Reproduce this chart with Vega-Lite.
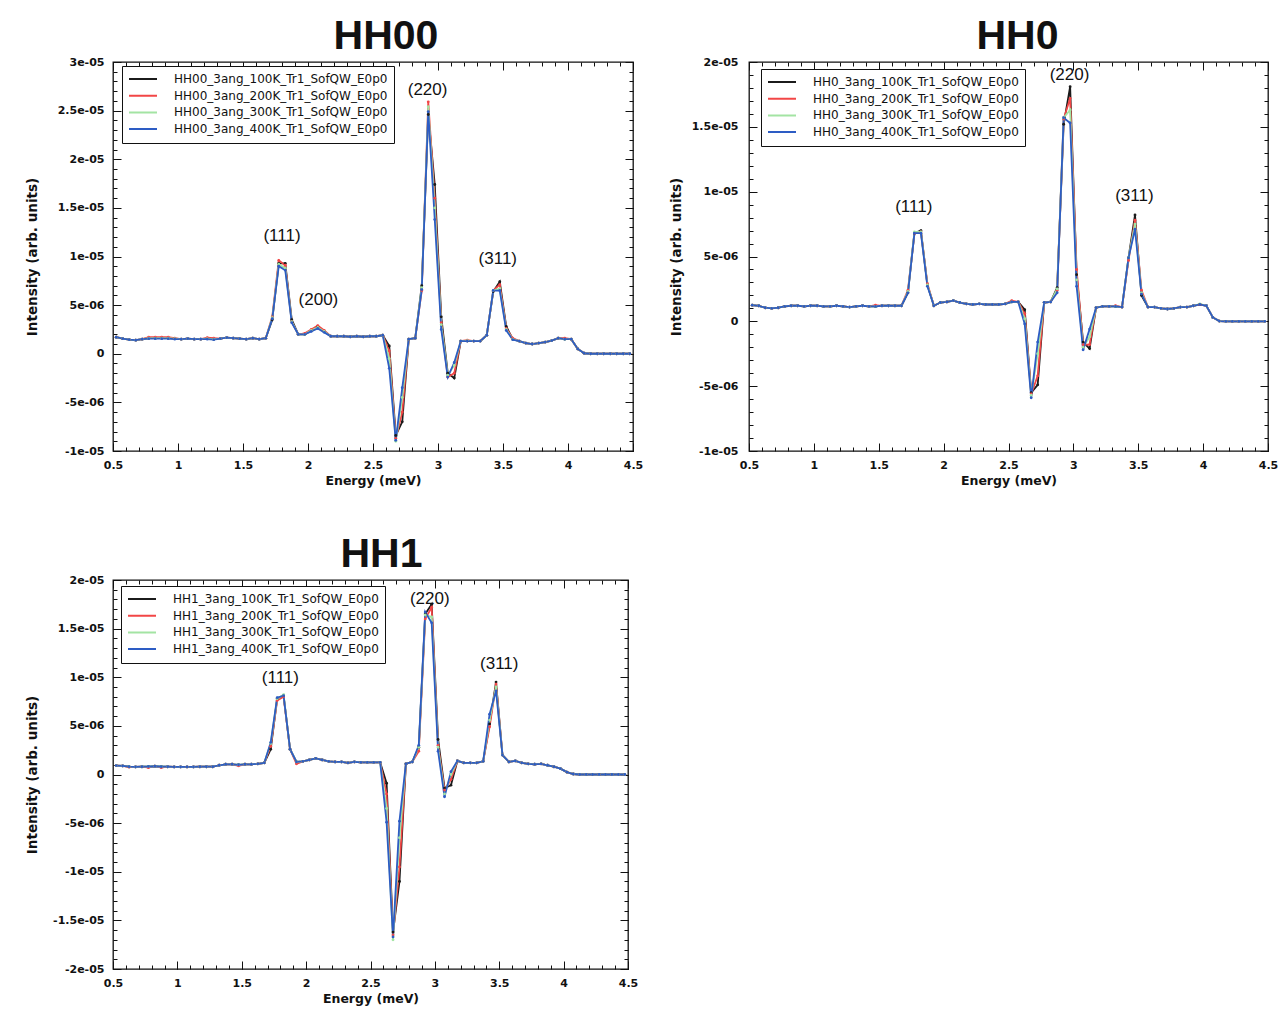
{
"$schema":"https://vega.github.io/schema/vega-lite/v6.json",
"background":"white",
"padding":{"left":24,"top":15,"right":5,"bottom":5},
"spacing":45,
"resolve":{"scale":{"color":"independent"},"legend":{"color":"independent"}},
"datasets":{
"hh00":[
{"E":0.525,"100K":1.7e-6,"200K":1.7e-6,"300K":1.7e-6,"400K":1.7e-6},
{"E":0.575,"100K":1.55e-6,"200K":1.55e-6,"300K":1.55e-6,"400K":1.55e-6},
{"E":0.625,"100K":1.45e-6,"200K":1.45e-6,"300K":1.45e-6,"400K":1.45e-6},
{"E":0.675,"100K":1.4e-6,"200K":1.4e-6,"300K":1.4e-6,"400K":1.4e-6},
{"E":0.725,"100K":1.5e-6,"200K":1.5e-6,"300K":1.5e-6,"400K":1.5e-6},
{"E":0.775,"100K":1.6e-6,"200K":1.7e-6,"300K":1.6e-6,"400K":1.55e-6},
{"E":0.825,"100K":1.6e-6,"200K":1.7e-6,"300K":1.6e-6,"400K":1.55e-6},
{"E":0.875,"100K":1.6e-6,"200K":1.7e-6,"300K":1.6e-6,"400K":1.55e-6},
{"E":0.925,"100K":1.6e-6,"200K":1.7e-6,"300K":1.6e-6,"400K":1.55e-6},
{"E":0.975,"100K":1.55e-6,"200K":1.6e-6,"300K":1.55e-6,"400K":1.5e-6},
{"E":1.025,"100K":1.5e-6,"200K":1.5e-6,"300K":1.5e-6,"400K":1.5e-6},
{"E":1.075,"100K":1.55e-6,"200K":1.55e-6,"300K":1.55e-6,"400K":1.55e-6},
{"E":1.125,"100K":1.5e-6,"200K":1.5e-6,"300K":1.5e-6,"400K":1.5e-6},
{"E":1.175,"100K":1.5e-6,"200K":1.5e-6,"300K":1.5e-6,"400K":1.5e-6},
{"E":1.225,"100K":1.55e-6,"200K":1.65e-6,"300K":1.55e-6,"400K":1.5e-6},
{"E":1.275,"100K":1.5e-6,"200K":1.6e-6,"300K":1.5e-6,"400K":1.45e-6},
{"E":1.325,"100K":1.55e-6,"200K":1.55e-6,"300K":1.55e-6,"400K":1.55e-6},
{"E":1.375,"100K":1.65e-6,"200K":1.65e-6,"300K":1.65e-6,"400K":1.65e-6},
{"E":1.425,"100K":1.6e-6,"200K":1.6e-6,"300K":1.6e-6,"400K":1.6e-6},
{"E":1.475,"100K":1.55e-6,"200K":1.55e-6,"300K":1.55e-6,"400K":1.55e-6},
{"E":1.525,"100K":1.5e-6,"200K":1.5e-6,"300K":1.5e-6,"400K":1.5e-6},
{"E":1.575,"100K":1.6e-6,"200K":1.6e-6,"300K":1.6e-6,"400K":1.6e-6},
{"E":1.625,"100K":1.5e-6,"200K":1.5e-6,"300K":1.5e-6,"400K":1.5e-6},
{"E":1.675,"100K":1.6e-6,"200K":1.6e-6,"300K":1.6e-6,"400K":1.6e-6},
{"E":1.725,"100K":3.5e-6,"200K":3.8e-6,"300K":3.7e-6,"400K":3.6e-6},
{"E":1.775,"100K":9.3e-6,"200K":9.6e-6,"300K":9.2e-6,"400K":9.0e-6},
{"E":1.825,"100K":9.3e-6,"200K":9.1e-6,"300K":8.8e-6,"400K":8.6e-6},
{"E":1.875,"100K":3.5e-6,"200K":3.3e-6,"300K":3.3e-6,"400K":3.2e-6},
{"E":1.925,"100K":2.0e-6,"200K":2.0e-6,"300K":2.0e-6,"400K":2.0e-6},
{"E":1.975,"100K":2.0e-6,"200K":2.1e-6,"300K":2.0e-6,"400K":2.0e-6},
{"E":2.025,"100K":2.4e-6,"200K":2.5e-6,"300K":2.4e-6,"400K":2.3e-6},
{"E":2.075,"100K":2.8e-6,"200K":2.9e-6,"300K":2.7e-6,"400K":2.6e-6},
{"E":2.125,"100K":2.3e-6,"200K":2.4e-6,"300K":2.3e-6,"400K":2.2e-6},
{"E":2.175,"100K":1.8e-6,"200K":1.8e-6,"300K":1.8e-6,"400K":1.8e-6},
{"E":2.225,"100K":1.8e-6,"200K":1.8e-6,"300K":1.8e-6,"400K":1.8e-6},
{"E":2.275,"100K":1.8e-6,"200K":1.8e-6,"300K":1.8e-6,"400K":1.8e-6},
{"E":2.325,"100K":1.75e-6,"200K":1.75e-6,"300K":1.75e-6,"400K":1.75e-6},
{"E":2.375,"100K":1.8e-6,"200K":1.8e-6,"300K":1.8e-6,"400K":1.8e-6},
{"E":2.425,"100K":1.75e-6,"200K":1.75e-6,"300K":1.75e-6,"400K":1.75e-6},
{"E":2.475,"100K":1.8e-6,"200K":1.8e-6,"300K":1.8e-6,"400K":1.8e-6},
{"E":2.525,"100K":1.8e-6,"200K":1.8e-6,"300K":1.8e-6,"400K":1.8e-6},
{"E":2.575,"100K":1.9e-6,"200K":1.9e-6,"300K":1.9e-6,"400K":1.9e-6},
{"E":2.625,"100K":0.8e-6,"200K":0.3e-6,"300K":-0.5e-6,"400K":-1.5e-6},
{"E":2.675,"100K":-8.4e-6,"200K":-8.7e-6,"300K":-9.0e-6,"400K":-8.9e-6},
{"E":2.725,"100K":-7.0e-6,"200K":-6.0e-6,"300K":-4.5e-6,"400K":-3.5e-6},
{"E":2.775,"100K":1.5e-6,"200K":1.5e-6,"300K":1.5e-6,"400K":1.5e-6},
{"E":2.825,"100K":1.6e-6,"200K":1.6e-6,"300K":1.6e-6,"400K":1.6e-6},
{"E":2.875,"100K":7.0e-6,"200K":6.5e-6,"300K":6.8e-6,"400K":6.6e-6},
{"E":2.925,"100K":24.6e-6,"200K":25.9e-6,"300K":25.4e-6,"400K":24.9e-6},
{"E":2.975,"100K":17.4e-6,"200K":16.0e-6,"300K":15.0e-6,"400K":13.8e-6},
{"E":3.025,"100K":3.8e-6,"200K":3.2e-6,"300K":3.0e-6,"400K":2.5e-6},
{"E":3.075,"100K":-2.0e-6,"200K":-2.4e-6,"300K":-2.2e-6,"400K":-2.4e-6},
{"E":3.125,"100K":-2.5e-6,"200K":-2.0e-6,"300K":-1.2e-6,"400K":-0.9e-6},
{"E":3.175,"100K":1.3e-6,"200K":1.3e-6,"300K":1.3e-6,"400K":1.3e-6},
{"E":3.225,"100K":1.3e-6,"200K":1.4e-6,"300K":1.35e-6,"400K":1.3e-6},
{"E":3.275,"100K":1.3e-6,"200K":1.3e-6,"300K":1.3e-6,"400K":1.3e-6},
{"E":3.325,"100K":1.3e-6,"200K":1.3e-6,"300K":1.3e-6,"400K":1.3e-6},
{"E":3.375,"100K":1.9e-6,"200K":1.9e-6,"300K":1.9e-6,"400K":1.9e-6},
{"E":3.425,"100K":6.4e-6,"200K":6.5e-6,"300K":6.5e-6,"400K":6.5e-6},
{"E":3.475,"100K":7.4e-6,"200K":7.1e-6,"300K":6.7e-6,"400K":6.5e-6},
{"E":3.525,"100K":2.8e-6,"200K":2.6e-6,"300K":2.5e-6,"400K":2.4e-6},
{"E":3.575,"100K":1.5e-6,"200K":1.6e-6,"300K":1.5e-6,"400K":1.45e-6},
{"E":3.625,"100K":1.3e-6,"200K":1.3e-6,"300K":1.3e-6,"400K":1.3e-6},
{"E":3.675,"100K":1.1e-6,"200K":1.1e-6,"300K":1.1e-6,"400K":1.1e-6},
{"E":3.725,"100K":1.0e-6,"200K":1.0e-6,"300K":1.0e-6,"400K":1.0e-6},
{"E":3.775,"100K":1.1e-6,"200K":1.1e-6,"300K":1.1e-6,"400K":1.1e-6},
{"E":3.825,"100K":1.2e-6,"200K":1.2e-6,"300K":1.2e-6,"400K":1.2e-6},
{"E":3.875,"100K":1.35e-6,"200K":1.35e-6,"300K":1.35e-6,"400K":1.35e-6},
{"E":3.925,"100K":1.6e-6,"200K":1.6e-6,"300K":1.6e-6,"400K":1.6e-6},
{"E":3.975,"100K":1.5e-6,"200K":1.6e-6,"300K":1.5e-6,"400K":1.5e-6},
{"E":4.025,"100K":1.5e-6,"200K":1.5e-6,"300K":1.5e-6,"400K":1.5e-6},
{"E":4.075,"100K":0.5e-6,"200K":0.5e-6,"300K":0.5e-6,"400K":0.5e-6},
{"E":4.125,"100K":0.05e-6,"200K":0.05e-6,"300K":0.05e-6,"400K":0.05e-6},
{"E":4.175,"100K":0,"200K":0,"300K":0,"400K":0},
{"E":4.225,"100K":0,"200K":0,"300K":0,"400K":0},
{"E":4.275,"100K":0,"200K":0,"300K":0,"400K":0},
{"E":4.325,"100K":0,"200K":0,"300K":0,"400K":0},
{"E":4.375,"100K":0,"200K":0,"300K":0,"400K":0},
{"E":4.425,"100K":0,"200K":0,"300K":0,"400K":0},
{"E":4.475,"100K":0,"200K":0,"300K":0,"400K":0}
],
"hh0":[
{"E":0.525,"100K":1.25e-6,"200K":1.25e-6,"300K":1.25e-6,"400K":1.25e-6},
{"E":0.575,"100K":1.2e-6,"200K":1.2e-6,"300K":1.2e-6,"400K":1.2e-6},
{"E":0.625,"100K":1.05e-6,"200K":1.05e-6,"300K":1.05e-6,"400K":1.05e-6},
{"E":0.675,"100K":1.0e-6,"200K":1.0e-6,"300K":1.0e-6,"400K":1.0e-6},
{"E":0.725,"100K":1.05e-6,"200K":1.05e-6,"300K":1.05e-6,"400K":1.05e-6},
{"E":0.775,"100K":1.15e-6,"200K":1.15e-6,"300K":1.15e-6,"400K":1.15e-6},
{"E":0.825,"100K":1.2e-6,"200K":1.2e-6,"300K":1.2e-6,"400K":1.2e-6},
{"E":0.875,"100K":1.2e-6,"200K":1.2e-6,"300K":1.2e-6,"400K":1.2e-6},
{"E":0.925,"100K":1.15e-6,"200K":1.15e-6,"300K":1.15e-6,"400K":1.15e-6},
{"E":0.975,"100K":1.2e-6,"200K":1.2e-6,"300K":1.2e-6,"400K":1.2e-6},
{"E":1.025,"100K":1.2e-6,"200K":1.2e-6,"300K":1.2e-6,"400K":1.2e-6},
{"E":1.075,"100K":1.15e-6,"200K":1.15e-6,"300K":1.15e-6,"400K":1.15e-6},
{"E":1.125,"100K":1.15e-6,"200K":1.15e-6,"300K":1.15e-6,"400K":1.15e-6},
{"E":1.175,"100K":1.2e-6,"200K":1.2e-6,"300K":1.2e-6,"400K":1.2e-6},
{"E":1.225,"100K":1.15e-6,"200K":1.15e-6,"300K":1.15e-6,"400K":1.15e-6},
{"E":1.275,"100K":1.1e-6,"200K":1.1e-6,"300K":1.1e-6,"400K":1.1e-6},
{"E":1.325,"100K":1.15e-6,"200K":1.15e-6,"300K":1.15e-6,"400K":1.15e-6},
{"E":1.375,"100K":1.2e-6,"200K":1.2e-6,"300K":1.2e-6,"400K":1.2e-6},
{"E":1.425,"100K":1.15e-6,"200K":1.15e-6,"300K":1.15e-6,"400K":1.15e-6},
{"E":1.475,"100K":1.15e-6,"200K":1.25e-6,"300K":1.15e-6,"400K":1.15e-6},
{"E":1.525,"100K":1.2e-6,"200K":1.2e-6,"300K":1.2e-6,"400K":1.2e-6},
{"E":1.575,"100K":1.2e-6,"200K":1.2e-6,"300K":1.2e-6,"400K":1.2e-6},
{"E":1.625,"100K":1.2e-6,"200K":1.2e-6,"300K":1.2e-6,"400K":1.2e-6},
{"E":1.675,"100K":1.2e-6,"200K":1.2e-6,"300K":1.2e-6,"400K":1.2e-6},
{"E":1.725,"100K":2.2e-6,"200K":2.4e-6,"300K":2.3e-6,"400K":2.2e-6},
{"E":1.775,"100K":6.8e-6,"200K":6.8e-6,"300K":6.9e-6,"400K":6.8e-6},
{"E":1.825,"100K":7.0e-6,"200K":6.9e-6,"300K":6.9e-6,"400K":6.8e-6},
{"E":1.875,"100K":2.8e-6,"200K":2.9e-6,"300K":2.8e-6,"400K":2.7e-6},
{"E":1.925,"100K":1.2e-6,"200K":1.2e-6,"300K":1.2e-6,"400K":1.2e-6},
{"E":1.975,"100K":1.45e-6,"200K":1.45e-6,"300K":1.45e-6,"400K":1.45e-6},
{"E":2.025,"100K":1.5e-6,"200K":1.5e-6,"300K":1.5e-6,"400K":1.5e-6},
{"E":2.075,"100K":1.6e-6,"200K":1.6e-6,"300K":1.6e-6,"400K":1.6e-6},
{"E":2.125,"100K":1.45e-6,"200K":1.45e-6,"300K":1.45e-6,"400K":1.45e-6},
{"E":2.175,"100K":1.35e-6,"200K":1.35e-6,"300K":1.35e-6,"400K":1.35e-6},
{"E":2.225,"100K":1.3e-6,"200K":1.3e-6,"300K":1.3e-6,"400K":1.3e-6},
{"E":2.275,"100K":1.35e-6,"200K":1.35e-6,"300K":1.35e-6,"400K":1.35e-6},
{"E":2.325,"100K":1.3e-6,"200K":1.3e-6,"300K":1.3e-6,"400K":1.3e-6},
{"E":2.375,"100K":1.3e-6,"200K":1.3e-6,"300K":1.3e-6,"400K":1.3e-6},
{"E":2.425,"100K":1.3e-6,"200K":1.3e-6,"300K":1.3e-6,"400K":1.3e-6},
{"E":2.475,"100K":1.35e-6,"200K":1.35e-6,"300K":1.35e-6,"400K":1.35e-6},
{"E":2.525,"100K":1.5e-6,"200K":1.6e-6,"300K":1.5e-6,"400K":1.5e-6},
{"E":2.575,"100K":1.5e-6,"200K":1.5e-6,"300K":1.5e-6,"400K":1.5e-6},
{"E":2.625,"100K":0.9e-6,"200K":0.6e-6,"300K":0.2e-6,"400K":-0.2e-6},
{"E":2.675,"100K":-5.5e-6,"200K":-5.6e-6,"300K":-5.7e-6,"400K":-5.9e-6},
{"E":2.725,"100K":-4.9e-6,"200K":-4.2e-6,"300K":-2.5e-6,"400K":-1.6e-6},
{"E":2.775,"100K":1.45e-6,"200K":1.45e-6,"300K":1.45e-6,"400K":1.45e-6},
{"E":2.825,"100K":1.5e-6,"200K":1.5e-6,"300K":1.5e-6,"400K":1.5e-6},
{"E":2.875,"100K":2.6e-6,"200K":2.4e-6,"300K":2.5e-6,"400K":2.2e-6},
{"E":2.925,"100K":15.2e-6,"200K":15.6e-6,"300K":15.7e-6,"400K":15.7e-6},
{"E":2.975,"100K":18.1e-6,"200K":17.2e-6,"300K":16.3e-6,"400K":15.3e-6},
{"E":3.025,"100K":3.6e-6,"200K":4.0e-6,"300K":3.2e-6,"400K":2.7e-6},
{"E":3.075,"100K":-1.6e-6,"200K":-1.8e-6,"300K":-2.0e-6,"400K":-2.2e-6},
{"E":3.125,"100K":-2.1e-6,"200K":-1.8e-6,"300K":-1.2e-6,"400K":-0.6e-6},
{"E":3.175,"100K":1.05e-6,"200K":1.05e-6,"300K":1.05e-6,"400K":1.05e-6},
{"E":3.225,"100K":1.15e-6,"200K":1.15e-6,"300K":1.15e-6,"400K":1.15e-6},
{"E":3.275,"100K":1.15e-6,"200K":1.15e-6,"300K":1.15e-6,"400K":1.15e-6},
{"E":3.325,"100K":1.15e-6,"200K":1.2e-6,"300K":1.15e-6,"400K":1.15e-6},
{"E":3.375,"100K":1.1e-6,"200K":1.1e-6,"300K":1.1e-6,"400K":1.1e-6},
{"E":3.425,"100K":4.9e-6,"200K":4.7e-6,"300K":4.9e-6,"400K":4.9e-6},
{"E":3.475,"100K":8.2e-6,"200K":7.8e-6,"300K":7.5e-6,"400K":7.1e-6},
{"E":3.525,"100K":2.0e-6,"200K":2.4e-6,"300K":2.2e-6,"400K":2.1e-6},
{"E":3.575,"100K":1.1e-6,"200K":1.1e-6,"300K":1.1e-6,"400K":1.1e-6},
{"E":3.625,"100K":1.1e-6,"200K":1.1e-6,"300K":1.1e-6,"400K":1.1e-6},
{"E":3.675,"100K":1.0e-6,"200K":1.0e-6,"300K":1.0e-6,"400K":1.0e-6},
{"E":3.725,"100K":0.95e-6,"200K":0.95e-6,"300K":0.95e-6,"400K":0.95e-6},
{"E":3.775,"100K":1.0e-6,"200K":1.0e-6,"300K":1.0e-6,"400K":1.0e-6},
{"E":3.825,"100K":1.1e-6,"200K":1.1e-6,"300K":1.1e-6,"400K":1.1e-6},
{"E":3.875,"100K":1.1e-6,"200K":1.1e-6,"300K":1.1e-6,"400K":1.1e-6},
{"E":3.925,"100K":1.2e-6,"200K":1.2e-6,"300K":1.2e-6,"400K":1.2e-6},
{"E":3.975,"100K":1.3e-6,"200K":1.3e-6,"300K":1.35e-6,"400K":1.3e-6},
{"E":4.025,"100K":1.2e-6,"200K":1.2e-6,"300K":1.2e-6,"400K":1.2e-6},
{"E":4.075,"100K":0.3e-6,"200K":0.3e-6,"300K":0.3e-6,"400K":0.3e-6},
{"E":4.125,"100K":0.02e-6,"200K":0.02e-6,"300K":0.02e-6,"400K":0.02e-6},
{"E":4.175,"100K":0,"200K":0,"300K":0,"400K":0},
{"E":4.225,"100K":0,"200K":0,"300K":0,"400K":0},
{"E":4.275,"100K":0,"200K":0,"300K":0,"400K":0},
{"E":4.325,"100K":0,"200K":0,"300K":0,"400K":0},
{"E":4.375,"100K":0,"200K":0,"300K":0,"400K":0},
{"E":4.425,"100K":0,"200K":0,"300K":0,"400K":0},
{"E":4.475,"100K":0,"200K":0,"300K":0,"400K":0}
],
"hh1":[
{"E":0.525,"100K":0.92e-6,"200K":0.92e-6,"300K":0.92e-6,"400K":0.92e-6},
{"E":0.575,"100K":0.88e-6,"200K":0.88e-6,"300K":0.88e-6,"400K":0.88e-6},
{"E":0.625,"100K":0.8e-6,"200K":0.75e-6,"300K":0.8e-6,"400K":0.8e-6},
{"E":0.675,"100K":0.78e-6,"200K":0.78e-6,"300K":0.78e-6,"400K":0.78e-6},
{"E":0.725,"100K":0.8e-6,"200K":0.8e-6,"300K":0.8e-6,"400K":0.8e-6},
{"E":0.775,"100K":0.82e-6,"200K":0.7e-6,"300K":0.82e-6,"400K":0.82e-6},
{"E":0.825,"100K":0.85e-6,"200K":0.85e-6,"300K":0.85e-6,"400K":0.85e-6},
{"E":0.875,"100K":0.8e-6,"200K":0.7e-6,"300K":0.8e-6,"400K":0.8e-6},
{"E":0.925,"100K":0.8e-6,"200K":0.8e-6,"300K":0.8e-6,"400K":0.8e-6},
{"E":0.975,"100K":0.78e-6,"200K":0.78e-6,"300K":0.78e-6,"400K":0.78e-6},
{"E":1.025,"100K":0.78e-6,"200K":0.78e-6,"300K":0.78e-6,"400K":0.78e-6},
{"E":1.075,"100K":0.78e-6,"200K":0.78e-6,"300K":0.78e-6,"400K":0.78e-6},
{"E":1.125,"100K":0.78e-6,"200K":0.78e-6,"300K":0.78e-6,"400K":0.78e-6},
{"E":1.175,"100K":0.8e-6,"200K":0.8e-6,"300K":0.8e-6,"400K":0.8e-6},
{"E":1.225,"100K":0.8e-6,"200K":0.8e-6,"300K":0.8e-6,"400K":0.8e-6},
{"E":1.275,"100K":0.8e-6,"200K":0.8e-6,"300K":0.8e-6,"400K":0.8e-6},
{"E":1.325,"100K":0.95e-6,"200K":0.95e-6,"300K":0.95e-6,"400K":0.95e-6},
{"E":1.375,"100K":1.05e-6,"200K":1.05e-6,"300K":1.05e-6,"400K":1.05e-6},
{"E":1.425,"100K":1.05e-6,"200K":1.05e-6,"300K":1.05e-6,"400K":1.05e-6},
{"E":1.475,"100K":1.0e-6,"200K":0.9e-6,"300K":1.0e-6,"400K":1.0e-6},
{"E":1.525,"100K":1.05e-6,"200K":1.05e-6,"300K":1.05e-6,"400K":1.05e-6},
{"E":1.575,"100K":1.05e-6,"200K":1.05e-6,"300K":1.05e-6,"400K":1.05e-6},
{"E":1.625,"100K":1.1e-6,"200K":1.1e-6,"300K":1.1e-6,"400K":1.1e-6},
{"E":1.675,"100K":1.2e-6,"200K":1.2e-6,"300K":1.2e-6,"400K":1.2e-6},
{"E":1.725,"100K":2.6e-6,"200K":2.9e-6,"300K":3.2e-6,"400K":3.3e-6},
{"E":1.775,"100K":7.8e-6,"200K":7.6e-6,"300K":7.8e-6,"400K":7.9e-6},
{"E":1.825,"100K":8.1e-6,"200K":8.0e-6,"300K":8.2e-6,"400K":8.1e-6},
{"E":1.875,"100K":2.6e-6,"200K":2.6e-6,"300K":2.6e-6,"400K":2.6e-6},
{"E":1.925,"100K":1.3e-6,"200K":1.1e-6,"300K":1.3e-6,"400K":1.3e-6},
{"E":1.975,"100K":1.35e-6,"200K":1.35e-6,"300K":1.35e-6,"400K":1.35e-6},
{"E":2.025,"100K":1.5e-6,"200K":1.5e-6,"300K":1.5e-6,"400K":1.5e-6},
{"E":2.075,"100K":1.65e-6,"200K":1.65e-6,"300K":1.65e-6,"400K":1.65e-6},
{"E":2.125,"100K":1.5e-6,"200K":1.5e-6,"300K":1.5e-6,"400K":1.5e-6},
{"E":2.175,"100K":1.35e-6,"200K":1.35e-6,"300K":1.35e-6,"400K":1.35e-6},
{"E":2.225,"100K":1.3e-6,"200K":1.3e-6,"300K":1.3e-6,"400K":1.3e-6},
{"E":2.275,"100K":1.3e-6,"200K":1.3e-6,"300K":1.3e-6,"400K":1.3e-6},
{"E":2.325,"100K":1.2e-6,"200K":1.2e-6,"300K":1.2e-6,"400K":1.2e-6},
{"E":2.375,"100K":1.3e-6,"200K":1.3e-6,"300K":1.3e-6,"400K":1.3e-6},
{"E":2.425,"100K":1.25e-6,"200K":1.25e-6,"300K":1.25e-6,"400K":1.25e-6},
{"E":2.475,"100K":1.25e-6,"200K":1.25e-6,"300K":1.25e-6,"400K":1.25e-6},
{"E":2.525,"100K":1.25e-6,"200K":1.25e-6,"300K":1.25e-6,"400K":1.25e-6},
{"E":2.575,"100K":1.25e-6,"200K":1.25e-6,"300K":1.25e-6,"400K":1.25e-6},
{"E":2.625,"100K":-0.9e-6,"200K":-2.0e-6,"300K":-3.5e-6,"400K":-4.9e-6},
{"E":2.675,"100K":-16.2e-6,"200K":-16.5e-6,"300K":-17.0e-6,"400K":-16.7e-6},
{"E":2.725,"100K":-11.0e-6,"200K":-9.5e-6,"300K":-6.5e-6,"400K":-4.8e-6},
{"E":2.775,"100K":1.1e-6,"200K":1.1e-6,"300K":1.1e-6,"400K":1.1e-6},
{"E":2.825,"100K":1.3e-6,"200K":1.3e-6,"300K":1.3e-6,"400K":1.3e-6},
{"E":2.875,"100K":2.8e-6,"200K":2.4e-6,"300K":2.8e-6,"400K":3.0e-6},
{"E":2.925,"100K":16.5e-6,"200K":16.0e-6,"300K":16.4e-6,"400K":16.7e-6},
{"E":2.975,"100K":17.5e-6,"200K":17.2e-6,"300K":16.2e-6,"400K":15.6e-6},
{"E":3.025,"100K":3.6e-6,"200K":3.0e-6,"300K":2.8e-6,"400K":2.4e-6},
{"E":3.075,"100K":-1.4e-6,"200K":-1.6e-6,"300K":-2.0e-6,"400K":-2.3e-6},
{"E":3.125,"100K":-1.1e-6,"200K":-0.5e-6,"300K":0,"400K":0.3e-6},
{"E":3.175,"100K":1.4e-6,"200K":1.4e-6,"300K":1.4e-6,"400K":1.4e-6},
{"E":3.225,"100K":1.2e-6,"200K":1.2e-6,"300K":1.2e-6,"400K":1.2e-6},
{"E":3.275,"100K":1.2e-6,"200K":1.2e-6,"300K":1.2e-6,"400K":1.2e-6},
{"E":3.325,"100K":1.2e-6,"200K":1.2e-6,"300K":1.2e-6,"400K":1.2e-6},
{"E":3.375,"100K":1.35e-6,"200K":1.35e-6,"300K":1.35e-6,"400K":1.35e-6},
{"E":3.425,"100K":5.2e-6,"200K":4.9e-6,"300K":5.6e-6,"400K":6.2e-6},
{"E":3.475,"100K":9.5e-6,"200K":9.3e-6,"300K":9.0e-6,"400K":8.6e-6},
{"E":3.525,"100K":2.0e-6,"200K":2.0e-6,"300K":2.0e-6,"400K":2.0e-6},
{"E":3.575,"100K":1.3e-6,"200K":1.3e-6,"300K":1.3e-6,"400K":1.3e-6},
{"E":3.625,"100K":1.4e-6,"200K":1.4e-6,"300K":1.4e-6,"400K":1.4e-6},
{"E":3.675,"100K":1.2e-6,"200K":1.2e-6,"300K":1.2e-6,"400K":1.2e-6},
{"E":3.725,"100K":1.1e-6,"200K":1.1e-6,"300K":1.1e-6,"400K":1.1e-6},
{"E":3.775,"100K":1.05e-6,"200K":1.05e-6,"300K":1.05e-6,"400K":1.05e-6},
{"E":3.825,"100K":1.1e-6,"200K":1.1e-6,"300K":1.1e-6,"400K":1.1e-6},
{"E":3.875,"100K":0.95e-6,"200K":0.95e-6,"300K":0.95e-6,"400K":0.95e-6},
{"E":3.925,"100K":0.8e-6,"200K":0.8e-6,"300K":0.8e-6,"400K":0.8e-6},
{"E":3.975,"100K":0.6e-6,"200K":0.6e-6,"300K":0.6e-6,"400K":0.6e-6},
{"E":4.025,"100K":0.25e-6,"200K":0.25e-6,"300K":0.25e-6,"400K":0.25e-6},
{"E":4.075,"100K":0.05e-6,"200K":0.05e-6,"300K":0.05e-6,"400K":0.05e-6},
{"E":4.125,"100K":0,"200K":0,"300K":0,"400K":0},
{"E":4.175,"100K":0,"200K":0,"300K":0,"400K":0},
{"E":4.225,"100K":0,"200K":0,"300K":0,"400K":0},
{"E":4.275,"100K":0,"200K":0,"300K":0,"400K":0},
{"E":4.325,"100K":0,"200K":0,"300K":0,"400K":0},
{"E":4.375,"100K":0,"200K":0,"300K":0,"400K":0},
{"E":4.425,"100K":0,"200K":0,"300K":0,"400K":0},
{"E":4.475,"100K":0,"200K":0,"300K":0,"400K":0}
],
"ann00":[{"E":1.8,"I":12.1e-6,"label":"(111)"},{"E":2.08,"I":5.55e-6,"label":"(200)"},{"E":2.92,"I":27.1e-6,"label":"(220)"},{"E":3.46,"I":9.7e-6,"label":"(311)"}],
"ann0":[{"E":1.77,"I":8.8e-6,"label":"(111)"},{"E":2.97,"I":19.0e-6,"label":"(220)"},{"E":3.47,"I":9.7e-6,"label":"(311)"}],
"ann1":[{"E":1.8,"I":9.9e-6,"label":"(111)"},{"E":2.96,"I":18.0e-6,"label":"(220)"},{"E":3.5,"I":11.4e-6,"label":"(311)"}]
},
"vconcat":[
{"hconcat":[
{"width":520,"height":389,"title":{"text":"HH00","dx":13},"data":{"name":"hh00"},
"layer":[
{"transform":[{"fold":["100K","200K","300K","400K"],"as":["T","I"]}],"mark":{"type":"line","strokeWidth":1.8},
"encoding":{
"x":{"field":"E","type":"quantitative","scale":{"domain":[0.5,4.5],"nice":false,"zero":false},"axis":{"orient":"bottom","values":[0.5,1,1.5,2,2.5,3,3.5,4,4.5],"format":"~g","offset":-8,"tickSize":8,"labelPadding":8,"title":"Energy (meV)","titlePadding":4}},
"y":{"field":"I","type":"quantitative","scale":{"domain":[-1e-5,3e-5],"nice":false,"zero":false},"axis":{"orient":"left","values":[-1e-5,-5e-6,0,5e-6,1e-5,1.5e-5,2e-5,2.5e-5,3e-5],"labelExpr":"datum.value==0?'0':(datum.value<0?'-':'')+replace(format(abs(datum.value),'.2~e'),'e-','e-0')","offset":-8,"tickSize":8,"labelPadding":9,"minExtent":66,"maxExtent":66,"title":"Intensity (arb. units)","titleFontSize":13.5,"titlePadding":16}},
"color":{"field":"T","type":"nominal","scale":{"domain":["100K","200K","300K","400K"],"range":["#1b1b1b","#f24646","#a3e4a3","#2d5cc4"]},"legend":{"orient":"none","legendX":9,"legendY":4,"title":null,"labelExpr":"'HH00_3ang_'+datum.label+'_Tr1_SofQW_E0p0'"}}}},
{"transform":[{"fold":["100K","200K","300K","400K"],"as":["T","I"]}],"mark":{"type":"point","filled":true,"size":8,"opacity":1},
"encoding":{
"x":{"field":"E","type":"quantitative","scale":{"domain":[0.5,4.5],"nice":false,"zero":false},"axis":{"orient":"bottom","tickCount":40,"labels":false,"offset":-4,"tickSize":4,"title":null}},
"y":{"field":"I","type":"quantitative","scale":{"domain":[-1e-5,3e-5],"nice":false,"zero":false},"axis":{"orient":"left","tickCount":40,"labels":false,"offset":-4,"tickSize":4,"title":null}},
"color":{"field":"T","type":"nominal","scale":{"domain":["100K","200K","300K","400K"],"range":["#1b1b1b","#f24646","#a3e4a3","#2d5cc4"]},"legend":null}}},
{"data":{"name":"ann00"},"mark":{"type":"text","font":"Liberation Sans","fontSize":17,"color":"#111","baseline":"middle"},
"encoding":{
"x":{"field":"E","type":"quantitative","scale":{"domain":[0.5,4.5],"nice":false,"zero":false},"axis":{"orient":"top","values":[0.5,1,1.5,2,2.5,3,3.5,4,4.5],"labels":false,"offset":-8,"tickSize":8,"title":null}},
"y":{"field":"I","type":"quantitative","scale":{"domain":[-1e-5,3e-5],"nice":false,"zero":false},"axis":{"orient":"right","values":[-1e-5,-5e-6,0,5e-6,1e-5,1.5e-5,2e-5,2.5e-5,3e-5],"labels":false,"offset":-8,"tickSize":8,"title":null}},
"text":{"field":"label"}}},
{"data":{"name":"ann00"},"mark":{"type":"point","opacity":0},
"encoding":{
"x":{"field":"E","type":"quantitative","scale":{"domain":[0.5,4.5],"nice":false,"zero":false},"axis":{"orient":"top","tickCount":40,"labels":false,"offset":-4,"tickSize":4,"title":null}},
"y":{"field":"I","type":"quantitative","scale":{"domain":[-1e-5,3e-5],"nice":false,"zero":false},"axis":{"orient":"right","tickCount":40,"labels":false,"offset":-4,"tickSize":4,"title":null}}}}
],
"resolve":{"axis":{"x":"independent","y":"independent"}}},
{"width":519,"height":389,"title":{"text":"HH0","dx":9},"data":{"name":"hh0"},
"layer":[
{"transform":[{"fold":["100K","200K","300K","400K"],"as":["T","I"]}],"mark":{"type":"line","strokeWidth":1.8},
"encoding":{
"x":{"field":"E","type":"quantitative","scale":{"domain":[0.5,4.5],"nice":false,"zero":false},"axis":{"orient":"bottom","values":[0.5,1,1.5,2,2.5,3,3.5,4,4.5],"format":"~g","offset":-8,"tickSize":8,"labelPadding":8,"title":"Energy (meV)","titlePadding":4}},
"y":{"field":"I","type":"quantitative","scale":{"domain":[-1e-5,2e-5],"nice":false,"zero":false},"axis":{"orient":"left","values":[-1e-5,-5e-6,0,5e-6,1e-5,1.5e-5,2e-5],"labelExpr":"datum.value==0?'0':(datum.value<0?'-':'')+replace(format(abs(datum.value),'.2~e'),'e-','e-0')","offset":-8,"tickSize":8,"labelPadding":11,"minExtent":66,"maxExtent":66,"title":"Intensity (arb. units)","titleFontSize":13.5,"titlePadding":8}},
"color":{"field":"T","type":"nominal","scale":{"domain":["100K","200K","300K","400K"],"range":["#1b1b1b","#f24646","#a3e4a3","#2d5cc4"]},"legend":{"orient":"none","legendX":12,"legendY":7,"title":null,"labelExpr":"'HH0_3ang_'+datum.label+'_Tr1_SofQW_E0p0'"}}}},
{"transform":[{"fold":["100K","200K","300K","400K"],"as":["T","I"]}],"mark":{"type":"point","filled":true,"size":8,"opacity":1},
"encoding":{
"x":{"field":"E","type":"quantitative","scale":{"domain":[0.5,4.5],"nice":false,"zero":false},"axis":{"orient":"bottom","tickCount":40,"labels":false,"offset":-4,"tickSize":4,"title":null}},
"y":{"field":"I","type":"quantitative","scale":{"domain":[-1e-5,2e-5],"nice":false,"zero":false},"axis":{"orient":"left","tickCount":30,"labels":false,"offset":-4,"tickSize":4,"title":null}},
"color":{"field":"T","type":"nominal","scale":{"domain":["100K","200K","300K","400K"],"range":["#1b1b1b","#f24646","#a3e4a3","#2d5cc4"]},"legend":null}}},
{"data":{"name":"ann0"},"mark":{"type":"text","font":"Liberation Sans","fontSize":17,"color":"#111","baseline":"middle"},
"encoding":{
"x":{"field":"E","type":"quantitative","scale":{"domain":[0.5,4.5],"nice":false,"zero":false},"axis":{"orient":"top","values":[0.5,1,1.5,2,2.5,3,3.5,4,4.5],"labels":false,"offset":-8,"tickSize":8,"title":null}},
"y":{"field":"I","type":"quantitative","scale":{"domain":[-1e-5,2e-5],"nice":false,"zero":false},"axis":{"orient":"right","values":[-1e-5,-5e-6,0,5e-6,1e-5,1.5e-5,2e-5],"labels":false,"offset":-8,"tickSize":8,"title":null}},
"text":{"field":"label"}}},
{"data":{"name":"ann0"},"mark":{"type":"point","opacity":0},
"encoding":{
"x":{"field":"E","type":"quantitative","scale":{"domain":[0.5,4.5],"nice":false,"zero":false},"axis":{"orient":"top","tickCount":40,"labels":false,"offset":-4,"tickSize":4,"title":null}},
"y":{"field":"I","type":"quantitative","scale":{"domain":[-1e-5,2e-5],"nice":false,"zero":false},"axis":{"orient":"right","tickCount":30,"labels":false,"offset":-4,"tickSize":4,"title":null}}}}
],
"resolve":{"axis":{"x":"independent","y":"independent"}}}
],"spacing":24,"resolve":{"scale":{"color":"independent"},"legend":{"color":"independent"}}},
{"width":515,"height":389,"title":{"text":"HH1","dx":11},"data":{"name":"hh1"},
"layer":[
{"transform":[{"fold":["100K","200K","300K","400K"],"as":["T","I"]}],"mark":{"type":"line","strokeWidth":1.8},
"encoding":{
"x":{"field":"E","type":"quantitative","scale":{"domain":[0.5,4.5],"nice":false,"zero":false},"axis":{"orient":"bottom","values":[0.5,1,1.5,2,2.5,3,3.5,4,4.5],"format":"~g","offset":-8,"tickSize":8,"labelPadding":8,"title":"Energy (meV)","titlePadding":4}},
"y":{"field":"I","type":"quantitative","scale":{"domain":[-2e-5,2e-5],"nice":false,"zero":false},"axis":{"orient":"left","values":[-2e-5,-1.5e-5,-1e-5,-5e-6,0,5e-6,1e-5,1.5e-5,2e-5],"labelExpr":"datum.value==0?'0':(datum.value<0?'-':'')+replace(format(abs(datum.value),'.2~e'),'e-','e-0')","offset":-8,"tickSize":8,"labelPadding":9,"minExtent":66,"maxExtent":66,"title":"Intensity (arb. units)","titleFontSize":13.5,"titlePadding":16}},
"color":{"field":"T","type":"nominal","scale":{"domain":["100K","200K","300K","400K"],"range":["#1b1b1b","#f24646","#a3e4a3","#2d5cc4"]},"legend":{"orient":"none","legendX":8,"legendY":6,"title":null,"labelExpr":"'HH1_3ang_'+datum.label+'_Tr1_SofQW_E0p0'"}}}},
{"transform":[{"fold":["100K","200K","300K","400K"],"as":["T","I"]}],"mark":{"type":"point","filled":true,"size":8,"opacity":1},
"encoding":{
"x":{"field":"E","type":"quantitative","scale":{"domain":[0.5,4.5],"nice":false,"zero":false},"axis":{"orient":"bottom","tickCount":40,"labels":false,"offset":-4,"tickSize":4,"title":null}},
"y":{"field":"I","type":"quantitative","scale":{"domain":[-2e-5,2e-5],"nice":false,"zero":false},"axis":{"orient":"left","tickCount":40,"labels":false,"offset":-4,"tickSize":4,"title":null}},
"color":{"field":"T","type":"nominal","scale":{"domain":["100K","200K","300K","400K"],"range":["#1b1b1b","#f24646","#a3e4a3","#2d5cc4"]},"legend":null}}},
{"data":{"name":"ann1"},"mark":{"type":"text","font":"Liberation Sans","fontSize":17,"color":"#111","baseline":"middle"},
"encoding":{
"x":{"field":"E","type":"quantitative","scale":{"domain":[0.5,4.5],"nice":false,"zero":false},"axis":{"orient":"top","values":[0.5,1,1.5,2,2.5,3,3.5,4,4.5],"labels":false,"offset":-8,"tickSize":8,"title":null}},
"y":{"field":"I","type":"quantitative","scale":{"domain":[-2e-5,2e-5],"nice":false,"zero":false},"axis":{"orient":"right","values":[-2e-5,-1.5e-5,-1e-5,-5e-6,0,5e-6,1e-5,1.5e-5,2e-5],"labels":false,"offset":-8,"tickSize":8,"title":null}},
"text":{"field":"label"}}},
{"data":{"name":"ann1"},"mark":{"type":"point","opacity":0},
"encoding":{
"x":{"field":"E","type":"quantitative","scale":{"domain":[0.5,4.5],"nice":false,"zero":false},"axis":{"orient":"top","tickCount":40,"labels":false,"offset":-4,"tickSize":4,"title":null}},
"y":{"field":"I","type":"quantitative","scale":{"domain":[-2e-5,2e-5],"nice":false,"zero":false},"axis":{"orient":"right","tickCount":40,"labels":false,"offset":-4,"tickSize":4,"title":null}}}}
],
"resolve":{"axis":{"x":"independent","y":"independent"}}}
],
"config":{
"view":{"stroke":"#111","strokeWidth":1.3},
"axis":{"labelFont":"DejaVu Sans","labelFontSize":11,"labelFontWeight":"bold","labelColor":"#111","titleFont":"DejaVu Sans","titleFontSize":12.5,"titleFontWeight":"bold","titleColor":"#111","tickColor":"#111","tickWidth":1,"domain":false,"grid":false,"labelFlush":false,"labelOverlap":false},
"title":{"font":"Liberation Sans","fontSize":41,"fontWeight":"bold","color":"#111","anchor":"middle","offset":-2},
"legend":{"strokeColor":"#111","fillColor":"white","padding":6,"symbolType":"stroke","symbolSize":784,"symbolStrokeWidth":2,"labelFont":"DejaVu Sans","labelFontSize":12,"labelColor":"#111","labelLimit":400,"rowPadding":2.7,"clipHeight":14,"labelOffset":16}
}
}
